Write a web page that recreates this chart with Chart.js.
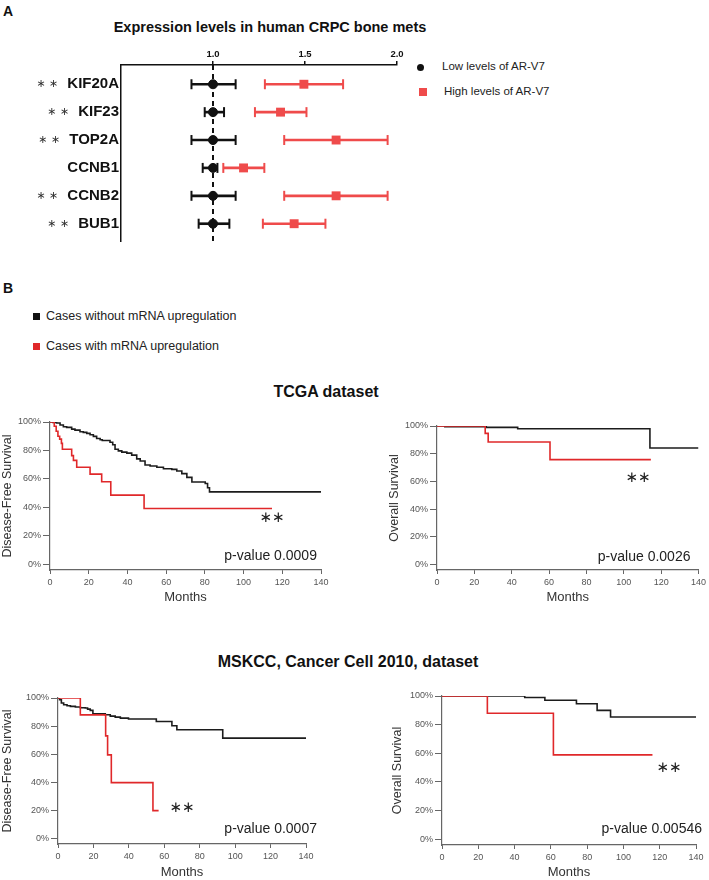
<!DOCTYPE html>
<html>
<head>
<meta charset="utf-8">
<script src="https://cdn.jsdelivr.net/npm/chart.js@4.4.1/dist/chart.umd.min.js"></script>
<style>
  body { margin: 0; background: #fff; font-family: 'Liberation Sans', Arial, sans-serif; color: #111; }
  #page { position: relative; width: 709px; height: 880px; overflow: hidden; }
  .box { position: absolute; }
  .txt { position: absolute; white-space: nowrap; line-height: 1; transform: translateY(-50%); }
  .mid { transform: translate(-50%, -50%); }
  .b { font-weight: bold; }
  .sq { position: absolute; }
</style>
</head>
<body>
<div id="page">
  <div class="txt b" style="left:3px;top:11px;font-size:14px">A</div>
  <div class="txt b mid" style="left:270px;top:27px;font-size:14.5px">Expression levels in human CRPC bone mets</div>
  <div class="box" style="left:0;top:0"><canvas id="forest" width="410" height="252"></canvas></div>

  <div class="sq" style="left:416.5px;top:63.5px;width:7px;height:7px;border-radius:50%;background:#111"></div>
  <div class="txt" style="left:442px;top:67px;font-size:11.5px;color:#222">Low levels of AR-V7</div>
  <div class="sq" style="left:419px;top:88px;width:8px;height:8px;background:#ef4b4b"></div>
  <div class="txt" style="left:444px;top:92px;font-size:11.5px;color:#222">High levels of AR-V7</div>

  <div class="txt b" style="left:3px;top:288px;font-size:14px">B</div>
  <div class="sq" style="left:33px;top:313px;width:7px;height:7px;background:#111"></div>
  <div class="txt" style="left:46px;top:316px;font-size:12.5px;color:#222">Cases without mRNA upregulation</div>
  <div class="sq" style="left:33px;top:343px;width:7px;height:7px;background:#e0282a"></div>
  <div class="txt" style="left:46px;top:346px;font-size:12.5px;color:#222">Cases with mRNA upregulation</div>

  <div class="txt b mid" style="left:326px;top:392px;font-size:16px">TCGA dataset</div>
  <div class="txt b mid" style="left:348px;top:662px;font-size:16px">MSKCC, Cancer Cell 2010, dataset</div>

  <div class="box" style="left:0;top:410px"><canvas id="km1" width="340" height="200"></canvas></div>
  <div class="box" style="left:387px;top:414px"><canvas id="km2" width="322" height="196"></canvas></div>
  <div class="box" style="left:0;top:686px"><canvas id="km3" width="325" height="194"></canvas></div>
  <div class="box" style="left:390px;top:684px"><canvas id="km4" width="319" height="196"></canvas></div>
</div>
<script>
Chart.defaults.font.family = "'Liberation Sans', Arial, sans-serif";

// ---- panel A: forest plot
const genes = ["KIF20A", "KIF23", "TOP2A", "CCNB1", "CCNB2", "BUB1"];
const sig = [true, true, true, false, true, true];
const lowMean = [1, 1, 1, 1, 1, 1];
const lowLo = [0.883, 0.955, 0.883, 0.944, 0.883, 0.922];
const lowHi = [1.123, 1.06, 1.123, 1.024, 1.123, 1.089];
const highMean = [1.494, 1.367, 1.669, 1.166, 1.669, 1.441];
const highLo = [1.282, 1.228, 1.387, 1.056, 1.387, 1.271];
const highHi = [1.707, 1.508, 1.949, 1.279, 1.949, 1.611];
const foldTicks = [1.0, 1.5, 2.0];
const refValue = 1.0;

// ---- panel B: Kaplan-Meier curves (months, % surviving)
const monthTicks = [0, 20, 40, 60, 80, 100, 120, 140];
const survTicks = [0, 20, 40, 60, 80, 100];

const tcgaDfsBlackT = [0, 1.5, 3.4, 5.2, 6.9, 8.6, 11.2, 12.9, 15.5, 17.2, 19, 20.7, 22.4, 24.1, 25.9, 27, 31, 32.4, 33.6, 35.3, 37.1, 39.7, 42.2, 44.8, 46.6, 49.1, 51.7, 55.2, 58.6, 62.9, 65.5, 68.1, 70.7, 73.3, 80.2, 81.4, 82.4, 140];
const tcgaDfsBlackS = [100, 99.6, 99.3, 97.9, 96.7, 96.2, 95, 94.3, 93.2, 92.7, 92, 91, 89.9, 88.4, 87.5, 87, 85.8, 84, 80.9, 79.7, 78.8, 78.1, 76.7, 74.1, 72.6, 69.8, 69.1, 68.2, 67.2, 66.7, 65.6, 63.7, 61.1, 57.8, 56.8, 53.8, 50.9, 50.9];
const tcgaDfsRedT = [0, 2.2, 3.2, 4.1, 5.0, 5.9, 6.4, 11.2, 12.1, 13.8, 20.7, 26.7, 31.4, 48.6, 114.7];
const tcgaDfsRedS = [100, 97, 93.5, 90, 88, 85, 80.9, 76.4, 73, 68.2, 63.4, 58, 48.6, 39.2, 39.2];

const tcgaOsBlackT = [0, 4.2, 26.4, 43.2, 114, 140];
const tcgaOsBlackS = [100, 99.5, 99, 98, 84.1, 84.1];
const tcgaOsRedT = [0, 25.8, 27.4, 60.5, 114.5];
const tcgaOsRedS = [100, 94.7, 88.4, 75.7, 75.7];

const mskDfsBlackT = [0, 0.9, 1.9, 3.2, 5.1, 7, 9.8, 12.6, 15.4, 16.7, 18.2, 19.7, 26.7, 29.5, 32.3, 35.2, 39.8, 55.5, 64.3, 67.1, 93, 140];
const mskDfsBlackS = [100, 98.8, 96.4, 95.2, 94.5, 94, 93.6, 93.1, 92.9, 92.1, 91.2, 88.8, 88.1, 87.1, 86.4, 85.7, 85, 83.3, 80.2, 77.4, 71.4, 71.4];
const mskDfsRedT = [0, 12.6, 26.9, 28, 30.1, 53.6, 56.8];
const mskDfsRedS = [100, 88, 73, 59.5, 39.7, 19.8, 19.8];

const mskOsBlackT = [0, 45.6, 56.7, 74.1, 85.5, 92.9, 140];
const mskOsBlackS = [100, 99, 97, 94.6, 90, 85.3, 85.3];
const mskOsRedT = [0, 25, 61.4, 116];
const mskOsRedS = [100, 88, 58.9, 58.9];

const BLACK = "#1c1c1c";
const RED = "#e0282a";
const FRED = "#ef4b4b";

const rowMin = -0.69, rowMax = 5.62;
const geneFont = "bold 15px 'Liberation Sans', Arial, sans-serif";

// asterisks left of the gene names
const starPlugin = {
  id: "stars",
  afterDraw(chart) {
    const ctx = chart.ctx;
    const y = chart.scales.y;
    ctx.save();
    sig.forEach((s, i) => {
      if (!s) return;
      ctx.font = geneFont;
      const w = ctx.measureText(genes[i]).width;
      ctx.font = "11px 'DejaVu Sans'";
      ctx.fillStyle = "#333";
      ctx.textAlign = "right";
      ctx.textBaseline = "middle";
      ctx.fillText("\u2217 \u2217", chart.chartArea.left - 2 - w - 9, y.getPixelForValue(i));
    });
    ctx.restore();
  }
};

// text placed in data coordinates
const notePlugin = {
  id: "notes",
  afterDraw(chart, args, opts) {
    const { ctx, scales: { x, y } } = chart;
    (opts.items || []).forEach(n => {
      ctx.save();
      ctx.font = n.font;
      ctx.fillStyle = "#222";
      ctx.textAlign = n.align || "center";
      ctx.textBaseline = "middle";
      ctx.fillText(n.text, x.getPixelForValue(n.x), y.getPixelForValue(n.y));
      ctx.restore();
    });
  }
};

function pts(t, s) {
  return t.map((v, i) => ({ x: v, y: s[i] }));
}

new Chart(document.getElementById("forest"), {
  type: "scatter",
  data: {
    datasets: [
      { data: genes.map((g, i) => ({ x: lowMean[i], y: i })), pointStyle: "circle", pointRadius: 4.5,
        backgroundColor: "#111", borderColor: "#111", borderWidth: 1 },
      { data: genes.map((g, i) => ({ x: highMean[i], y: i })), pointStyle: "rect", pointRadius: 6.3,
        backgroundColor: FRED, borderColor: FRED, borderWidth: 0 },
      { data: genes.map((g, i) => ({ x: lowLo[i], y: i })).concat(genes.map((g, i) => ({ x: lowHi[i], y: i }))),
        pointStyle: "line", pointRotation: 90, pointRadius: 5, borderColor: "#111", pointBorderWidth: 2 },
      { data: genes.map((g, i) => ({ x: highLo[i], y: i })).concat(genes.map((g, i) => ({ x: highHi[i], y: i }))),
        pointStyle: "line", pointRotation: 90, pointRadius: 5, borderColor: FRED, pointBorderWidth: 2 },
      { type: "bar", indexAxis: "y", grouped: false, barThickness: 2, backgroundColor: "#111",
        data: genes.map((g, i) => ({ x: [lowLo[i], lowHi[i]], y: i })) },
      { type: "bar", indexAxis: "y", grouped: false, barThickness: 2, backgroundColor: FRED,
        data: genes.map((g, i) => ({ x: [highLo[i], highHi[i]], y: i })) },
      { showLine: true, data: [{ x: refValue, y: rowMin }, { x: refValue, y: rowMax }], borderColor: "#111",
        borderWidth: 2, borderDash: [5, 4], pointRadius: 0 }
    ]
  },
  options: {
    animation: false,
    responsive: false,
    events: [],
    layout: { padding: { top: 0, right: 13, bottom: 4, left: 0 } },
    plugins: { legend: { display: false }, tooltip: { enabled: false } },
    scales: {
      x: {
        type: "linear", position: "top", min: 0.5, max: 2.0, offset: false,
        afterBuildTicks: s => { s.ticks = foldTicks.map(v => ({ value: v })); },
        afterFit: s => { s.height = 65; },
        ticks: { callback: v => v.toFixed(1), font: { size: 9.5, weight: "bold" }, color: "#111", padding: 1, maxRotation: 0 },
        grid: { drawOnChartArea: false, drawTicks: true, tickLength: 4, color: "#111", lineWidth: 1.5, offset: false },
        border: { color: "#111", width: 1.5 }
      },
      y: {
        type: "linear", reverse: true, min: rowMin, max: rowMax, offset: false,
        afterBuildTicks: s => { s.ticks = genes.map((g, i) => ({ value: i })); },
        afterFit: s => { s.width = 121; },
        ticks: { callback: v => genes[v], font: { size: 15, weight: "bold" }, color: "#111", padding: 2, autoSkip: false },
        grid: { display: false, drawTicks: false, tickLength: 0 },
        border: { display: true, color: "#111", width: 1.5 }
      }
    }
  },
  plugins: [starPlugin]
});

function kmChart(id, cfg) {
  return new Chart(document.getElementById(id), {
    type: "line",
    data: {
      datasets: [
        { data: pts(cfg.redT, cfg.redS), borderColor: RED, borderWidth: 1.6, stepped: true, pointRadius: 0, fill: false },
        { data: pts(cfg.blackT, cfg.blackS), borderColor: BLACK, borderWidth: 1.6, stepped: true, pointRadius: 0, fill: false }
      ]
    },
    options: {
      animation: false,
      responsive: false,
      events: [],
      layout: { padding: cfg.pad },
      plugins: { legend: { display: false }, tooltip: { enabled: false }, notes: { items: cfg.notes } },
      scales: {
        x: {
          type: "linear", min: 0, max: 140,
          afterBuildTicks: s => { s.ticks = monthTicks.map(v => ({ value: v })); },
          afterFit: s => { s.height = cfg.xh; },
          ticks: { font: { size: 9 }, color: "#555", padding: 3, maxRotation: 0 },
          grid: { drawOnChartArea: false, drawTicks: true, tickLength: 4, color: "#666" },
          border: { color: "#666", width: 1.2 },
          title: { display: true, text: "Months", font: { size: 13 }, color: "#333", padding: { top: 0, bottom: cfg.tb } }
        },
        y: {
          type: "linear", min: -4, max: 100,
          afterBuildTicks: s => { s.ticks = survTicks.map(v => ({ value: v })); },
          afterFit: s => { s.width = cfg.yw; },
          ticks: { callback: v => v + "%", font: { size: 9 }, color: "#555", padding: 2 },
          grid: { drawOnChartArea: false, drawTicks: true, tickLength: 7, color: "#666" },
          border: { color: "#666", width: 1.2 },
          title: { display: true, text: cfg.ytitle, font: { size: 12.5 }, color: "#333", padding: { top: 0.5, bottom: 0 } }
        }
      }
    },
    plugins: [notePlugin]
  });
}

const starFont = "15px 'DejaVu Sans'";
const pFont = "14px 'Liberation Sans', Arial, sans-serif";

kmChart("km1", {
  blackT: tcgaDfsBlackT, blackS: tcgaDfsBlackS, redT: tcgaDfsRedT, redS: tcgaDfsRedS,
  ytitle: "Disease-Free Survival", pad: { top: 12, right: 19, bottom: 0, left: 0 }, xh: 40, yw: 50, tb: 5,
  notes: [
    { x: 114.7, y: 32.5, text: "\u2217\u2217", font: starFont },
    { x: 137.9, y: 5.8, text: "p-value 0.0009", font: pFont, align: "right" }
  ]
});

kmChart("km2", {
  blackT: tcgaOsBlackT, blackS: tcgaOsBlackS, redT: tcgaOsRedT, redS: tcgaOsRedS,
  ytitle: "Overall Survival", pad: { top: 12, right: 8, bottom: 0, left: 0 }, xh: 40, yw: 50, tb: 5,
  notes: [
    { x: 107.6, y: 62.5, text: "\u2217\u2217", font: starFont },
    { x: 135.7, y: 5.4, text: "p-value 0.0026", font: pFont, align: "right" }
  ]
});

kmChart("km3", {
  blackT: mskDfsBlackT, blackS: mskDfsBlackS, redT: mskDfsRedT, redS: mskDfsRedS,
  ytitle: "Disease-Free Survival", pad: { top: 12, right: 19, bottom: 0, left: 0 }, xh: 36, yw: 58, tb: 0,
  notes: [
    { x: 70, y: 21.7, text: "\u2217\u2217", font: starFont },
    { x: 146.2, y: 6.7, text: "p-value 0.0007", font: pFont, align: "right" }
  ]
});

kmChart("km4", {
  blackT: mskOsBlackT, blackS: mskOsBlackS, redT: mskOsRedT, redS: mskOsRedS,
  ytitle: "Overall Survival", pad: { top: 12, right: 13, bottom: 0, left: 0 }, xh: 35, yw: 52, tb: 0,
  notes: [
    { x: 125.1, y: 49.8, text: "\u2217\u2217", font: starFont },
    { x: 143.3, y: 7.2, text: "p-value 0.00546", font: pFont, align: "right" }
  ]
});
</script>
</body>
</html>
